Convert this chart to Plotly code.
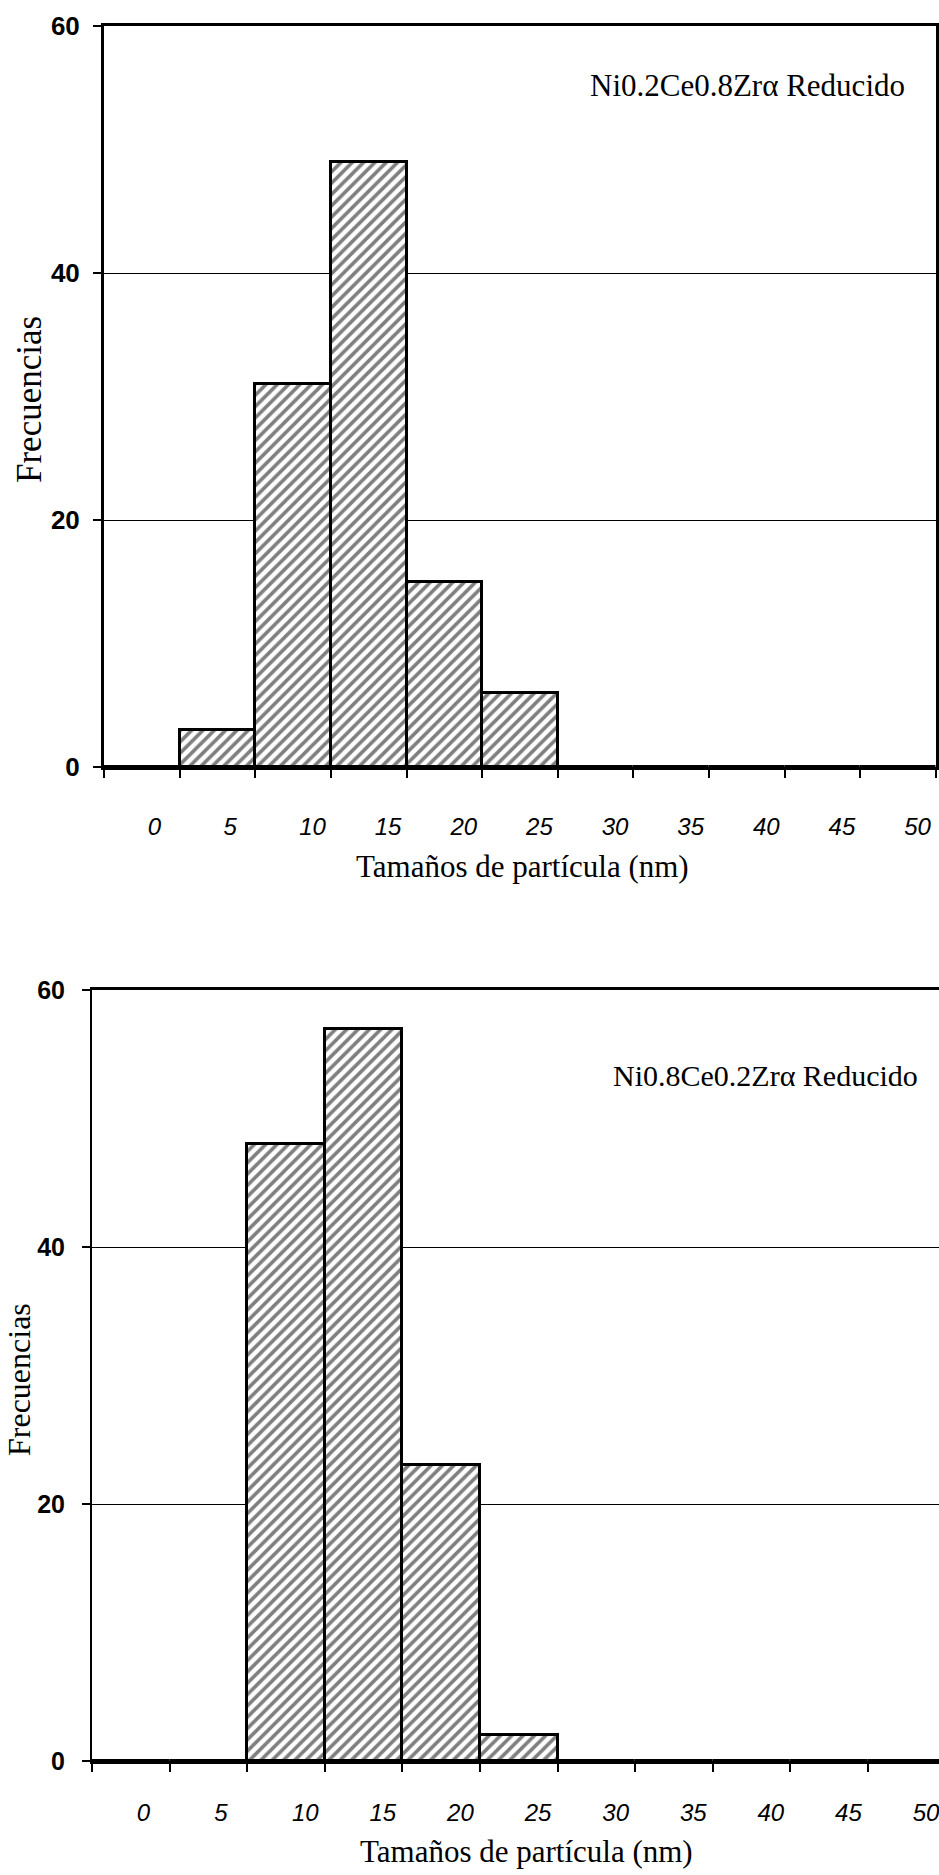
import plotly.graph_objects as go

# Particle-size histogram data (frequency per 5 nm class)
size_labels = ["0", "5", "10", "15", "20", "25", "30", "35", "40", "45", "50"]
freq_ni02 = [0, 3, 31, 49, 15, 6, 0, 0, 0, 0, 0]
freq_ni08 = [0, 0, 48, 57, 23, 2, 0, 0, 0, 0, 0]
y_ticks = [0, 20, 40, 60]

W, H = 939, 1875
bins = list(range(len(size_labels)))
centers = [b + 0.5 for b in bins]
label_pos = [c + 0.06 for c in centers]

SERIF = "Liberation Serif"
SANS = "Liberation Sans"


def bar_trace(values, xa, ya):
    return go.Bar(
        x=centers, y=values, width=1, xaxis=xa, yaxis=ya,
        marker=dict(
            color="white",
            line=dict(color="black", width=3),
            pattern=dict(shape="/", fgcolor="black", bgcolor="white",
                         size=8, solidity=0.45),
        ),
        showlegend=False, hoverinfo="skip",
    )


fig = go.Figure()
fig.add_trace(bar_trace(freq_ni02, "x", "y"))
fig.add_trace(bar_trace(freq_ni08, "x2", "y2"))


def xaxis_cfg(domain, rng, lw, label_size, standoff):
    return dict(
        domain=domain, range=rng, automargin=False,
        tickmode="array", tickvals=label_pos, ticktext=size_labels,
        ticks="", ticklabelposition="outside right",
        ticklabeloverflow="allow",
        ticklabelstandoff=standoff,
        tickfont=dict(family=SANS, size=label_size, color="black",
                      style="italic"),
        minor=dict(tickmode="array", tickvals=list(range(len(size_labels) + 1)),
                   ticks="outside", ticklen=8, tickwidth=1.5,
                   tickcolor="black", showgrid=False),
        showline=True, linecolor="black", linewidth=lw, mirror=True,
        showgrid=False, zeroline=False, fixedrange=True,
    )


def yaxis_cfg(domain, lw, label_size, standoff, mirror):
    return dict(
        domain=domain, range=[0, 60], automargin=False,
        tickmode="array", tickvals=y_ticks,
        ticks="outside", ticklen=8, tickwidth=1.5, tickcolor="black",
        ticklabelstandoff=standoff,
        tickfont=dict(family=SANS, size=label_size, color="black",
                      weight="bold"),
        showline=True, linecolor="black", linewidth=lw, mirror=mirror,
        showgrid=True, gridcolor="black", gridwidth=1.4,
        zeroline=False, fixedrange=True,
    )


top_x = xaxis_cfg([104 / W, 936 / W], [0, 11], 3, 24, 36)
top_x["anchor"] = "y"
bot_x = xaxis_cfg([92 / W, 1.0], [0, (939 - 92) / 77.6], 2.5, 24, 28)
bot_x["anchor"] = "y2"

top_y = yaxis_cfg([1 - 767 / H, 1 - 26 / H], 3, 26, 8, True)
top_y["anchor"] = "x"
bot_y = yaxis_cfg([1 - 1761 / H, 1 - 990 / H], 2, 25, 12, False)
bot_y["anchor"] = "x2"

fig.update_layout(
    width=W, height=H,
    margin=dict(l=0, r=0, t=0, b=0, autoexpand=False),
    paper_bgcolor="white", plot_bgcolor="white",
    bargap=0,
    xaxis=top_x, yaxis=top_y, xaxis2=bot_x, yaxis2=bot_y,
)


def note(text, x, y, size, xanchor="center", angle=0):
    fig.add_annotation(
        text=text, x=x / W, y=1 - y / H, xref="paper", yref="paper",
        xanchor=xanchor, yanchor="middle", showarrow=False,
        textangle=angle, font=dict(family=SERIF, size=size, color="black"),
    )


note("Ni0.2Ce0.8Zrα Reducido", 907, 85, 31, xanchor="right")
note("Ni0.8Ce0.2Zrα Reducido", 920, 1075, 30, xanchor="right")
note("Frecuencias", 29, 400, 35, angle=-90)
note("Frecuencias", 19, 1380, 32, angle=-90)
note("Tamaños de partícula (nm)", 522, 867, 31)
note("Tamaños de partícula (nm)", 526, 1851, 31)

fig.write_html("out.html")
